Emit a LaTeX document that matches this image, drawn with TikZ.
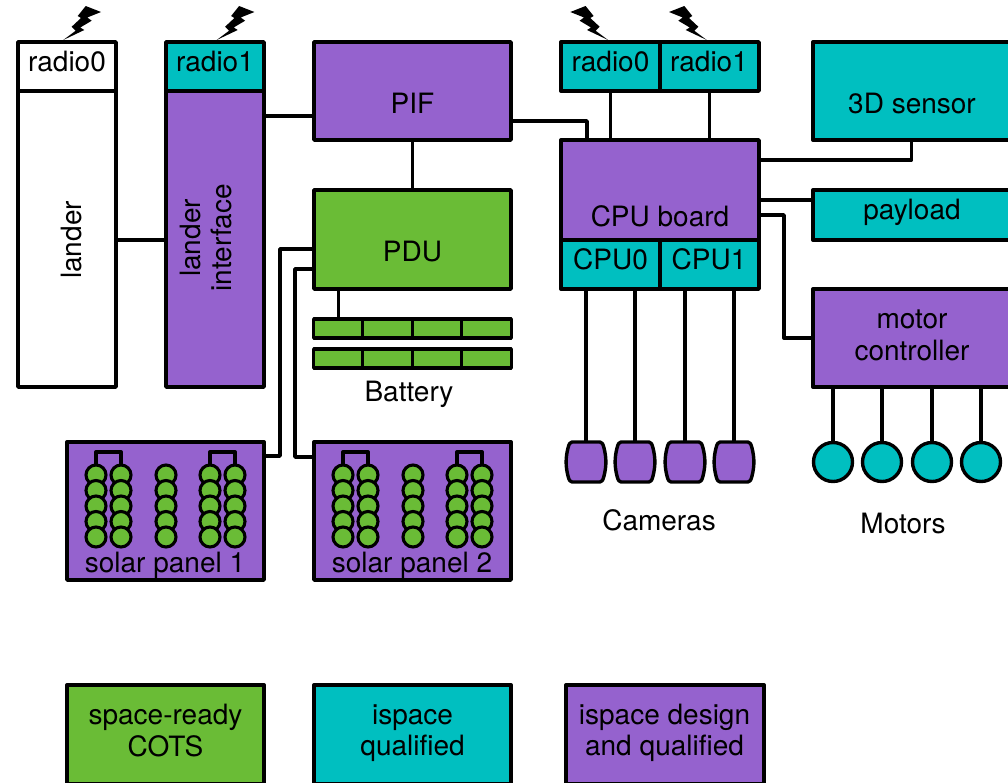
\documentclass[tikz,border=0pt]{standalone}
\usepackage{fontspec}
\setmainfont{TeX Gyre Heros}
\begin{document}
\definecolor{cgreen}{RGB}{106,188,54}
\definecolor{cteal}{RGB}{0,191,192}
\definecolor{cpurple}{RGB}{149,98,206}
\begin{tikzpicture}[x=1pt,y=-1pt,line width=3.4pt,line join=round,
  box/.style={draw=black,rectangle,outer sep=0pt,inner sep=0pt,align=center},
  txt/.style={inner sep=0pt,align=center,font=\fontsize{28}{31.5}\selectfont},
  cell/.style={circle,draw=black,line width=3.1pt,fill=cgreen,minimum size=20pt,inner sep=0pt,outer sep=0pt},
  motor/.style={circle,draw=black,fill=cteal,minimum size=39pt,inner sep=0pt,outer sep=0pt},
  cam/.style={draw=black,fill=cpurple}]
\useasboundingbox (0,0) rectangle (1008,782);
\clip (0,0) rectangle (1008,782);
\coordinate (ci1) at (586,442);\coordinate (ci2) at (635,442);\coordinate (ci3) at (685,442);\coordinate (ci4) at (734,442);
\node[box,fill=white,minimum width=98pt,minimum height=296pt] (lander) at (67,239) {};
\node[box,fill=white,minimum width=98pt,minimum height=49pt] (r0a) at (67,66.5) {};
\node[txt] at (67,62) {radio0};
\node[txt,rotate=90] at (72,240) {lander};
\node[box,fill=cpurple,minimum width=98pt,minimum height=296pt] (li) at (215,239) {};
\node[box,fill=cteal,minimum width=98pt,minimum height=49pt] (r1a) at (215,66.5) {};
\node[txt] at (215,62) {radio1};
\node[txt,rotate=90] at (206,238) {lander\\interface};
\node[box,fill=cpurple,minimum width=197pt,minimum height=98pt] (pif) at (412.5,91) {};
\node[txt] at (412.5,103) {PIF};
\node[box,fill=cgreen,minimum width=197pt,minimum height=99pt] (pdu) at (412.5,239.5) {};
\node[txt] at (412.5,252) {PDU};
\foreach \y/\n in {328.5/a,358.5/b}{
  \foreach \x/\m in {338.5/1,387.5/2,437/3,486.5/4}{
    \node[box,fill=cgreen,minimum width=49.5pt,minimum height=19pt] (bat\n\m) at (\x,\y) {};
  }
}
\node[txt] (battery) at (409,394) {Battery};
\node[box,fill=cteal,minimum width=99pt,minimum height=49pt] (r0b) at (610.5,66.5) {};
\node[txt] at (610.5,62) {radio0};
\node[box,fill=cteal,minimum width=99pt,minimum height=49pt] (r1b) at (709.5,66.5) {};
\node[txt] at (709,62) {radio1};
\node[box,fill=cpurple,minimum width=198pt,minimum height=100pt] (cpu) at (660,190) {};
\node[txt] at (660,216) {CPU board};
\node[box,fill=cteal,minimum width=99pt,minimum height=49pt] (cpu0) at (610.5,264.5) {};
\node[txt] at (610.5,259) {CPU0};
\node[box,fill=cteal,minimum width=99pt,minimum height=49pt] (cpu1) at (709.5,264.5) {};
\node[txt] at (709,259) {CPU1};
\node[box,fill=cteal,minimum width=197pt,minimum height=98pt] (sensor) at (911.5,91) {};
\node[txt] at (912,103.5) {3D sensor};
\node[box,fill=cteal,minimum width=197pt,minimum height=50pt] (payload) at (911.5,215) {};
\node[txt] at (912,212.5) {payload};
\node[box,fill=cpurple,minimum width=197pt,minimum height=98pt] (mc) at (911.5,338) {};
\node[txt] at (912,335.5) {motor\\controller};
\node[box,fill=cpurple,minimum width=197pt,minimum height=138pt] (sp1) at (165.5,511) {};
\node[box,fill=cpurple,minimum width=197pt,minimum height=138pt] (sp2) at (412.5,511) {};
\node[txt] at (165,565) {solar panel 1};
\node[txt] at (412,565) {solar panel 2};
% connectors
\draw (lander.east |- 0,240) -- (li.west |- 0,240);
\draw (li.east |- 0,116) -- (pif.west |- 0,116);
\draw (pif.south) -- (pdu.north);
\draw (pif.east |- 0,121) -- (587,121) -- (587,140);
\draw (r0b.south) -- (cpu.north -| r0b.south);
\draw (r1b.south) -- (cpu.north -| r1b.south);
\draw (cpu.east |- 0,160) -- (sensor.south |- 0,160) -- (sensor.south);
\draw (cpu.east |- 0,200) -- (payload.west |- 0,200);
\draw (cpu.east |- 0,215) -- (784,215) -- (784,338) -- (mc.west);
\draw (pdu.west |- 0,249) -- (280,249) -- (280,456) -- (sp1.east |- 0,456);
\draw (pdu.west |- 0,269) -- (295,269) -- (295,457) -- (sp2.west |- 0,457);
\draw (pdu.south -| bata1.north) -- (bata1.north);
\foreach \i/\x/\c in {1/586/cpu0,2/635/cpu0,3/685/cpu1,4/734/cpu1}{
  \draw (\c.south -| ci\i) -- (ci\i);
  \draw[cam] (\x-14,442) -- (\x+14,442) .. controls (\x+16,442) and (\x+17,444) .. (\x+18,448)
    .. controls (\x+20.5,458) and (\x+20.5,466) .. (\x+18,476)
    .. controls (\x+17,480) and (\x+16,482) .. (\x+14,482) -- (\x-14,482)
    .. controls (\x-16,482) and (\x-17,480) .. (\x-18,476)
    .. controls (\x-20.5,466) and (\x-20.5,458) .. (\x-18,448)
    .. controls (\x-17,444) and (\x-16,442) .. (\x-14,442) -- cycle;
}
\foreach \i/\x in {1/833,2/882,3/932,4/981}{
  \node[motor] (m\i) at (\x,462) {};
  \draw (mc.south -| m\i.north) -- (m\i.north);
}
\node[txt] (cameras) at (659,520) {Cameras};
\node[txt] (motors) at (903,523) {Motors};
% solar cells
\foreach \s/\p in {0/a,247/b}{
  \begin{scope}[xshift=\s]
    \foreach \xa/\xb/\k in {96/121/l,210/235/r}{
      \coordinate (br\p\k a) at (\xa,475);
      \coordinate (br\p\k b) at (\xb,475);
      \draw (br\p\k a) -- (\xa,452) -- (\xb,452) -- (br\p\k b);
    }
    \foreach \x/\c in {96/1,121/2,166/3,210/4,235/5}{
      \foreach \y/\r in {475/1,490.5/2,506/3,521.5/4,537/5}{
        \node[cell] (c\p\c\r) at (\x,\y) {};
      }
    }
  \end{scope}
}
% legend
\node[box,fill=cgreen,minimum width=197pt,minimum height=99pt] (l1) at (165.5,734.5) {};
\node[txt] at (165.5,730.5) {space-ready\\COTS};
\node[box,fill=cteal,minimum width=197pt,minimum height=99pt] (l2) at (412.5,734.5) {};
\node[txt] at (412.5,733) {ispace\\qualified};
\node[box,fill=cpurple,minimum width=198pt,minimum height=99pt] (l3) at (665,734.5) {};
\node[txt] at (664.5,733) {ispace design\\and qualified};
% lightning bolts
\foreach \tx/\sx in {63.3/1,216.7/1,608/-1,706.7/-1}{
  \fill[shift={(\tx,40)},xscale=\sx] (0,0) -- (12.4,-9.3) -- (8.4,-13.3) -- (17.7,-22) -- (14.4,-24) -- (22.4,-34) -- (37.7,-28) -- (24,-22.5) -- (28.4,-19.3) -- (17,-12.5) -- (21,-10) -- cycle;
}
\end{tikzpicture}
\end{document}
